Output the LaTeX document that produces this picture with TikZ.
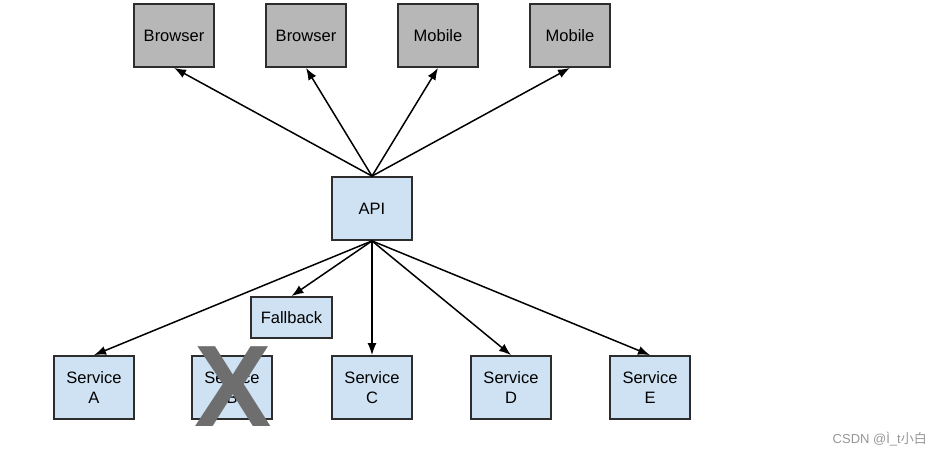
\documentclass[tikz,border=0pt]{standalone}
\usepackage{fontspec}
\setmainfont{Liberation Sans}
\newfontfamily\cjkfont{Noto Sans CJK SC}
\usepackage{xcolor}
\usepackage{tikz}
\definecolor{clientgray}{RGB}{183, 183, 183}
\definecolor{svcblue}{RGB}{207, 226, 243}
\definecolor{edgegray}{RGB}{45, 45, 45}
\definecolor{crossgray}{RGB}{110, 110, 110}
\definecolor{markgray}{RGB}{150, 150, 150}
\usetikzlibrary{arrows.meta, positioning}

\tikzset{
    box/.style={draw=edgegray, line width=1.8pt, minimum width=80pt, minimum height=63pt,
                align=center, font=\fontsize{16.5}{19.5}\selectfont, inner sep=0pt},
    client/.style={box, fill=clientgray},
    svc/.style={box, fill=svcblue},
    link/.style={-{Latex[length=12pt, width=9pt]}, line width=1.5pt}
}

\begin{document}
\begin{tikzpicture}[x=1pt, y=-1pt]
        \useasboundingbox (0,0) rectangle (941,456);

        % clients
        \node[client] (browserA) at (174,35.5) {Browser};
        \node[client] (browserB) at (306,35.5) {Browser};
        \node[client] (mobileA) at (438,35.5) {Mobile};
        \node[client] (mobileB) at (570,35.5) {Mobile};

        % gateway
        \node[svc] (api) at (372,208.5) {API};
        \node[svc, minimum width=81pt, minimum height=41pt] (fallback) at (291.5,317.5) {Fallback};

        % services
        \node[svc] (svcA) at (94,387.5) {Service\\A};
        \node[svc] (svcB) at (232,387.5) {Service\\B};
        \node[svc] (svcC) at (372,387.5) {Service\\C};
        \node[svc] (svcD) at (511,387.5) {Service\\D};
        \node[svc] (svcE) at (650,387.5) {Service\\E};

        \node[text=crossgray, font=\fontsize{116}{116}\selectfont\bfseries, inner sep=0pt] (cross) at (233,386.5) {X};

        \foreach \t in {browserA, browserB, mobileA, mobileB}
            \draw[link] (api.north) -- (\t.south);
        \foreach \t in {svcA, fallback, svcC, svcD, svcE}
            \draw[link] (api.south) -- (\t.north);

        \node[text=markgray, font=\fontsize{13}{15}\selectfont, anchor=east, inner sep=0pt] (mark) at (927,439) {CSDN @Ì\_t{\cjkfont 小白}};
    \end{tikzpicture}
\end{document}
